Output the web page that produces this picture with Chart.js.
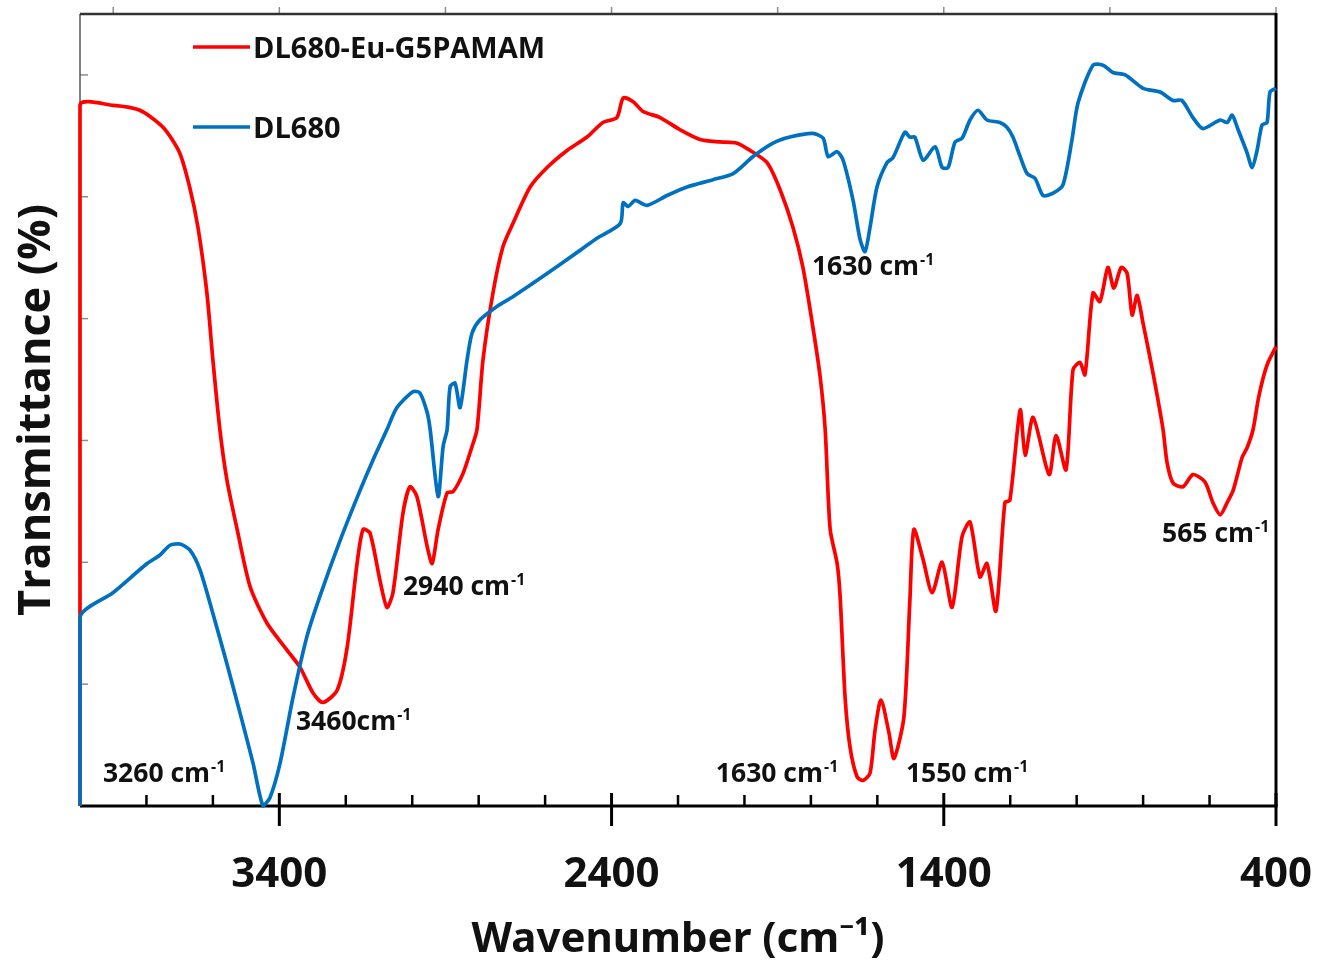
<!DOCTYPE html>
<html>
<head>
<meta charset="utf-8">
<title>FTIR spectra</title>
<script src="https://cdn.jsdelivr.net/npm/chart.js@4.4.1/dist/chart.umd.min.js"></script>
<style>
  html, body { margin: 0; padding: 0; background: #fff; }
  #wrap { width: 1319px; height: 965px; }
</style>
</head>
<body>
<div id="wrap"><canvas id="ftir" width="1319" height="965"></canvas></div>
<script>
// values: wavenumber (cm-1) and transmittance (no scale shown, 0-65 units)
const euWave = [4000, 4000, 3900, 3820, 3750, 3700, 3670, 3645, 3618, 3600,
  3579, 3558, 3527, 3488, 3437, 3377, 3338, 3299, 3269, 3226,
  3196, 3166, 3148, 3127, 3097, 3076, 3058, 3028, 3007, 2986,
  2955, 2940, 2922, 2895, 2877, 2847, 2820, 2805, 2787, 2757,
  2727, 2697, 2645, 2594, 2534, 2474, 2426, 2384, 2365, 2335,
  2305, 2254, 2194, 2134, 2073, 2022, 1983, 1932, 1893, 1854,
  1824, 1794, 1772, 1757, 1742, 1721, 1712, 1697, 1682, 1661,
  1643, 1622, 1607, 1589, 1565, 1550, 1520, 1502, 1490, 1462,
  1435, 1405, 1375, 1345, 1321, 1291, 1270, 1243, 1216, 1201,
  1170, 1155, 1131, 1083, 1062, 1032, 1011, 990, 975, 951,
  930, 906, 888, 866, 848, 833, 818, 800, 770, 740,
  728, 710, 680, 650, 614, 590, 568, 547, 529, 502,
  487, 469, 454, 439, 424, 400];
const euTrans = [0, 57.5, 57.5, 57.1, 55.7, 53.6, 50.8, 47.5, 42.1, 36.6,
  30.9, 26.8, 22.7, 18.0, 15.0, 12.8, 11.4, 9.3, 8.5, 9.5,
  13.0, 19.9, 22.7, 22.4, 18.5, 16.3, 17.5, 24.0, 26.2, 25.4,
  21.3, 19.9, 22.7, 25.7, 25.8, 27.3, 29.5, 30.9, 36.6, 42.1,
  45.9, 47.8, 50.8, 52.4, 53.8, 54.9, 56.1, 56.5, 58.1, 57.8,
  57.0, 56.5, 55.5, 54.7, 54.5, 54.4, 53.8, 52.8, 50.6, 47.5,
  44.2, 39.3, 35.2, 30.9, 22.7, 19.9, 17.2, 8.9, 4.8, 2.4,
  2.1, 2.7, 6.2, 8.7, 6.0, 3.9, 7.3, 16.9, 22.7, 20.2,
  17.5, 20.0, 16.3, 22.1, 23.3, 18.8, 19.9, 16.0, 24.9, 25.1,
  32.5, 28.8, 31.9, 27.2, 30.4, 27.6, 35.8, 36.4, 35.4, 42.1,
  41.4, 44.2, 42.5, 44.2, 43.7, 40.3, 41.9, 39.6, 35.5, 30.9,
  28.2, 26.5, 26.2, 27.2, 26.6, 24.9, 23.9, 24.9, 25.9, 28.6,
  29.4, 30.9, 33.3, 35.1, 36.4, 37.7];

const dlWave = [4000, 4000, 3901, 3798, 3759, 3729, 3699, 3669, 3639, 3600,
  3558, 3518, 3479, 3449, 3428, 3398, 3359, 3317, 3278, 3217,
  3157, 3118, 3076, 3046, 2998, 2977, 2955, 2946, 2922, 2907,
  2895, 2886, 2871, 2856, 2835, 2820, 2796, 2745, 2697, 2594,
  2495, 2444, 2374, 2365, 2350, 2329, 2293, 2233, 2173, 2095,
  2034, 1974, 1914, 1863, 1794, 1763, 1748, 1721, 1703, 1673,
  1652, 1637, 1622, 1601, 1571, 1553, 1517, 1502, 1487, 1462,
  1426, 1405, 1387, 1366, 1345, 1321, 1297, 1270, 1231, 1210,
  1192, 1170, 1149, 1125, 1101, 1071, 1041, 1014, 996, 951,
  921, 891, 854, 800, 749, 710, 683, 650, 620, 568,
  547, 532, 514, 487, 472, 457, 442, 427, 418, 400];
const dlTrans = [0, 15.5, 17.5, 19.9, 20.6, 21.4, 21.5, 21.0, 19.4, 15.8,
  11.7, 7.6, 3.5, 0, 0.7, 3.5, 8.9, 13.9, 17.2, 21.8,
  25.9, 28.4, 30.9, 32.7, 34.0, 33.9, 32.3, 30.9, 25.4, 29.5,
  30.9, 34.4, 34.7, 32.7, 36.6, 38.8, 39.9, 41.0, 41.8, 43.7,
  45.6, 46.6, 47.8, 49.5, 49.2, 49.7, 49.3, 50.1, 50.8, 51.4,
  51.9, 53.3, 54.4, 54.9, 55.2, 54.8, 53.3, 53.7, 53.0, 49.7,
  46.5, 45.5, 47.5, 50.8, 52.8, 53.2, 55.3, 54.9, 54.9, 53.0,
  54.1, 52.4, 52.4, 54.5, 54.8, 56.3, 57.1, 56.3, 56.1, 55.7,
  54.9, 53.3, 51.9, 51.5, 50.1, 50.3, 51.0, 54.7, 57.7, 60.8,
  60.8, 60.2, 60.0, 58.9, 58.6, 57.9, 57.9, 56.5, 55.6, 56.3,
  56.1, 56.7, 55.5, 53.6, 52.4, 53.8, 55.9, 56.1, 58.6, 58.9];

const seriesNames = ['DL680-Eu-G5PAMAM', 'DL680'];
const seriesColors = ['#ff0000', '#0070c0'];

// axis ticks
const majorTicks = [3400, 2400, 1400, 400];
const minorTicks = [3800, 3600, 3200, 3000, 2800, 2600, 2200, 2000, 1800, 1600, 1200, 1000, 800, 600];
const topTicks = [3900, 3400, 2900, 2400, 1900, 1400, 900, 400];
const yTicks = [10, 20, 30, 40, 50, 60];

// peak labels (text starts at peakX, baseline at peakY)
const peakText = ['3260 cm', '3460cm', '2940 cm', '1630 cm', '1630 cm', '1550 cm', '565 cm'];
const peakX = [3931, 3350, 3028, 1797, 2086, 1514, 743];
const peakY = [2.0, 6.2, 17.3, 43.6, 2.0, 2.0, 21.7];

const FONT = "'Open Sans', 'Noto Sans', sans-serif";

function toPoints(xs, ys) {
  return xs.map((v, i) => ({ x: v, y: ys[i] }));
}

function line(ctx, x1, y1, x2, y2) {
  ctx.beginPath();
  ctx.moveTo(x1, y1);
  ctx.lineTo(x2, y2);
  ctx.stroke();
}

// frame, y ticks, top ticks and the bottom axis with major/minor ticks
const frameTicks = {
  id: 'frameTicks',
  beforeDatasetsDraw(chart) {
    const { ctx, chartArea: a, scales: { x, y } } = chart;
    ctx.save();
    ctx.lineCap = 'butt';

    ctx.strokeStyle = '#8c8c8c';
    ctx.lineWidth = 1.5;
    yTicks.forEach(v => {
      const py = y.getPixelForValue(v);
      line(ctx, a.left, py, a.left + 8, py);
    });
    topTicks.forEach(v => {
      const px = x.getPixelForValue(v);
      line(ctx, px, a.top, px, a.top - 7);
    });

    ctx.strokeStyle = '#555';
    ctx.lineWidth = 1.5;
    line(ctx, a.left, a.top, a.left, a.bottom);

    ctx.strokeStyle = '#333';
    ctx.lineWidth = 2.5;
    line(ctx, a.left, a.top, a.right, a.top);

    ctx.strokeStyle = '#000';
    ctx.lineWidth = 3;
    line(ctx, a.right, a.top - 1, a.right, a.bottom);
    line(ctx, a.left, a.bottom, a.right + 1.5, a.bottom);

    ctx.lineWidth = 2.5;
    minorTicks.forEach(v => {
      const px = x.getPixelForValue(v);
      line(ctx, px, a.bottom, px, a.bottom - 11);
    });
    ctx.lineWidth = 3;
    majorTicks.forEach(v => {
      const px = x.getPixelForValue(v);
      line(ctx, px, a.bottom - 13, px, a.bottom + 20);
    });
    ctx.restore();
  }
};

// legend in the upper left and the peak labels
const labelsPlugin = {
  id: 'labelsPlugin',
  afterDatasetsDraw(chart) {
    const { ctx, chartArea: a, scales: { x, y } } = chart;
    ctx.save();

    const rows = [a.top + 33, a.top + 113];
    seriesNames.forEach((name, i) => {
      ctx.strokeStyle = seriesColors[i];
      ctx.lineWidth = 3.5;
      line(ctx, a.left + 113, rows[i], a.left + 170, rows[i]);
      ctx.fillStyle = '#111';
      ctx.font = `bold 29px ${FONT}`;
      ctx.textBaseline = 'alphabetic';
      ctx.textAlign = 'left';
      ctx.fillText(name, a.left + 173, rows[i] + 11);
    });

    peakText.forEach((t, i) => {
      const px = x.getPixelForValue(peakX[i]);
      const py = y.getPixelForValue(peakY[i]);
      ctx.fillStyle = '#111';
      ctx.textAlign = 'left';
      ctx.textBaseline = 'alphabetic';
      ctx.font = `bold 26.5px ${FONT}`;
      ctx.fillText(t, px, py);
      const w = ctx.measureText(t).width;
      ctx.font = `bold 16px ${FONT}`;
      ctx.fillText('-1', px + w + 1, py - 10);
    });
    ctx.restore();
  }
};

new Chart(document.getElementById('ftir'), {
  type: 'line',
  data: {
    datasets: [
      {
        label: seriesNames[0],
        data: toPoints(euWave, euTrans),
        borderColor: seriesColors[0],
        order: 2
      },
      {
        label: seriesNames[1],
        data: toPoints(dlWave, dlTrans),
        borderColor: seriesColors[1],
        order: 1
      }
    ]
  },
  options: {
    responsive: false,
    animation: false,
    devicePixelRatio: 1,
    layout: { padding: { top: 14, right: 43, left: 0, bottom: 0 } },
    elements: {
      point: { radius: 0 },
      line: { borderWidth: 3.7, tension: 0.25, fill: false }
    },
    datasets: { line: { clip: 3 } },
    plugins: {
      legend: { display: false },
      tooltip: { enabled: false }
    },
    scales: {
      x: {
        type: 'linear',
        reverse: true,
        min: 400,
        max: 4000,
        afterBuildTicks: scale => {
          scale.ticks = majorTicks.map(v => ({ value: v }));
        },
        afterFit: scale => {
          scale.height = 159;
          scale.paddingLeft = 0;
          scale.paddingRight = 0;
        },
        grid: { display: false, drawTicks: false },
        border: { display: false },
        ticks: {
          autoSkip: false,
          maxRotation: 0,
          padding: 44,
          color: '#111',
          callback: v => String(v),
          font: { family: FONT, size: 42, weight: 'bold' }
        },
        title: {
          display: true,
          text: 'Wavenumber (cm\u207B\u00B9)',
          color: '#111',
          padding: { top: 0, bottom: 0 },
          font: { family: "'Noto Sans', 'Open Sans', sans-serif", size: 42, weight: 'bold' }
        }
      },
      y: {
        min: 0,
        max: 65,
        afterFit: scale => { scale.width = 80; },
        grid: { display: false, drawTicks: false },
        border: { display: false },
        ticks: { display: false },
        title: {
          display: true,
          text: 'Transmittance (%)',
          color: '#111',
          padding: { top: 10, bottom: 0 },
          font: { family: FONT, size: 45, weight: 'bold' }
        }
      }
    }
  },
  plugins: [frameTicks, labelsPlugin]
});
</script>
</body>
</html>
